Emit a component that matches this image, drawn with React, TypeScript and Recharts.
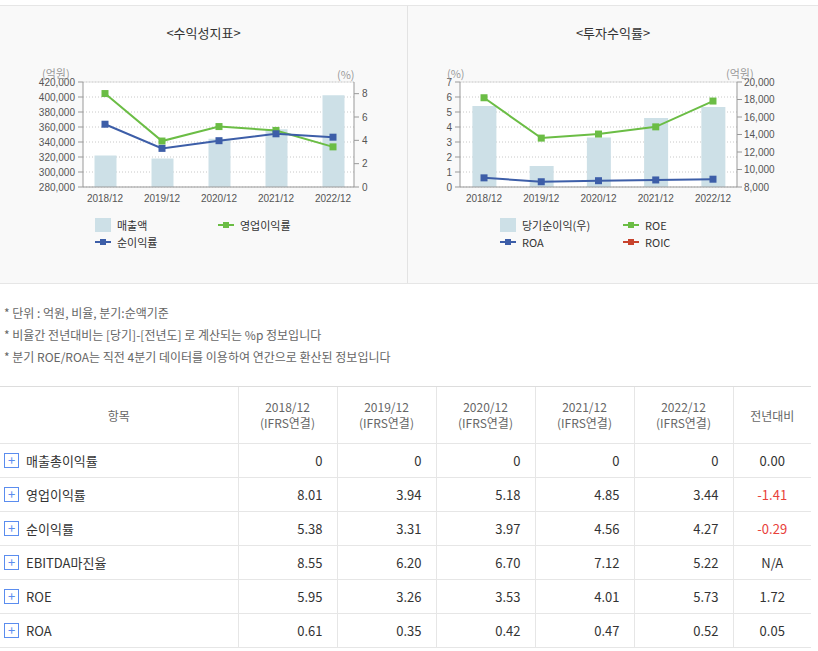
import { ComposedChart, Bar, Line, XAxis, YAxis, CartesianGrid, ReferenceLine } from "recharts"

// 공통
const years = ["2018/12", "2019/12", "2020/12", "2021/12", "2022/12"]

// 수익성지표
const sales = [322000, 318000, 344500, 357000, 402500]
const opMargin = [8.01, 3.94, 5.18, 4.85, 3.44]
const netMargin = [5.38, 3.31, 3.97, 4.56, 4.27]
const salesTicks = [280000, 300000, 320000, 340000, 360000, 380000, 400000, 420000]
const marginTicks = [0, 2, 4, 6, 8]

// 투자수익률
const netIncome = [17250, 10400, 13650, 15900, 17150]
const roe = [5.95, 3.26, 3.53, 4.01, 5.73]
const roa = [0.61, 0.35, 0.42, 0.47, 0.52]
const rateTicks = [0, 1, 2, 3, 4, 5, 6, 7]
const incomeTicks = [8000, 10000, 12000, 14000, 16000, 18000, 20000]

// 표
const tableItems = ["매출총이익률", "영업이익률", "순이익률", "EBITDA마진율", "ROE", "ROA"]
const tableValues = [
    ["0", "0", "0", "0", "0"],
    ["8.01", "3.94", "5.18", "4.85", "3.44"],
    ["5.38", "3.31", "3.97", "4.56", "4.27"],
    ["8.55", "6.20", "6.70", "7.12", "5.22"],
    ["5.95", "3.26", "3.53", "4.01", "5.73"],
    ["0.61", "0.35", "0.42", "0.47", "0.52"],
]
const yoy = ["0.00", "-1.41", "-0.29", "N/A", "1.72", "0.05"]

const notes = [
    "* 단위 : 억원, 비율, 분기:순액기준",
    "* 비율간 전년대비는 [당기]-[전년도] 로 계산되는 %p 정보입니다",
    "* 분기 ROE/ROA는 직전 4분기 데이터를 이용하여 연간으로 환산된 정보입니다",
]

const BAR = "#cde0e7"
const GREEN = "#6bbd45"
const BLUE = "#3d5ea8"
const RED = "#c8432d"
const KR = "'Noto Sans CJK KR', 'Noto Sans', sans-serif"

const profitData = years.map((y, i) => ({ year: y, sales: sales[i], op: opMargin[i], net: netMargin[i] }))
const returnData = years.map((y, i) => ({ year: y, income: netIncome[i], roe: roe[i], roa: roa[i] }))

const fmt = (v: number) => v.toLocaleString("en-US")
const tickStyle = { fill: "#555", fontSize: 10, fontFamily: "'Liberation Sans', Arial, sans-serif" }

const squareDot = (color: string) => (props: any) => {
    const { cx, cy, index } = props
    if (cx == null || cy == null) return <g key={index} />
    return <rect key={index} x={cx - 3.5} y={cy - 3.5} width={7} height={7} fill={color} />
}

function LegendItem({ kind, color, label, x, y }: { kind: "bar" | "line"; color: string; label: string; x: number; y: number }) {
    return (
        <div style={{ position: "absolute", left: x, top: y - 8, height: 16, display: "flex", alignItems: "center", whiteSpace: "nowrap", fontSize: 11, color: "#333", fontFamily: KR }}>
            {kind === "bar" ? (
                <div style={{ width: 16, height: 14, background: color, flex: "none" }} />
            ) : (
                <svg width={16} height={8} style={{ flex: "none" }}>
                    <line x1={0} y1={4} x2={16} y2={4} stroke={color} strokeWidth={2} />
                    <rect x={5} y={1} width={6} height={6} fill={color} />
                </svg>
            )}
            <span style={{ marginLeft: 6 }}>{label}</span>
        </div>
    )
}

function Panel({ left, width, title, children }: { left: number; width: number; title: string; children: any }) {
    return (
        <div style={{ position: "absolute", left, top: 5, width, height: 277, background: "#f9f9f9", borderTop: "1px solid #e6e6e6", borderBottom: "1px solid #e6e6e6", borderRight: left === 0 ? "1px solid #e3e3e3" : "none" }}>
            <div style={{ position: "absolute", top: 17, left: 0, width: "100%", textAlign: "center", fontSize: 13, color: "#333", fontFamily: KR }}>
                {title}
            </div>
            <div style={{ position: "absolute", left: 0, top: -5, width, height: 280 }}>{children}</div>
        </div>
    )
}

function ProfitChart() {
    return (
        <div style={{ position: "absolute", left: 0, top: 0 }}>
            <ComposedChart width={407} height={230} data={profitData} margin={{ top: 81, right: 3, bottom: 14, left: 23 }}>
                <CartesianGrid yAxisId="amt" vertical={false} stroke="#c8c8c8" strokeDasharray="1 2" fill="#fff" />
                <XAxis dataKey="year" padding={{ left: -6.5, right: -7.5 }} tick={tickStyle} tickLine={false} axisLine={{ stroke: "#999" }} />
                <YAxis yAxisId="amt" width={60} domain={[280000, 420000]} ticks={salesTicks} tickFormatter={fmt} tick={tickStyle} tickSize={5} tickMargin={3} axisLine={{ stroke: "#999" }} tickLine={{ stroke: "#999" }} interval={0} />
                <YAxis yAxisId="pct" orientation="right" width={50} domain={[0, 9]} ticks={marginTicks} tick={tickStyle} tickSize={5} tickMargin={3} axisLine={{ stroke: "#999" }} tickLine={{ stroke: "#999" }} interval={0} />
                <ReferenceLine yAxisId="amt" y={420000} stroke="#ddd" />
                <Bar yAxisId="amt" dataKey="sales" fill={BAR} barSize={22} isAnimationActive={false} />
                <Line yAxisId="pct" dataKey="op" stroke={GREEN} strokeWidth={2} dot={squareDot(GREEN)} activeDot={false} isAnimationActive={false} />
                <Line yAxisId="pct" dataKey="net" stroke={BLUE} strokeWidth={2} dot={squareDot(BLUE)} activeDot={false} isAnimationActive={false} />
            </ComposedChart>
        </div>
    )
}

function ReturnChart() {
    return (
        <div style={{ position: "absolute", left: 0, top: 0 }}>
            <ComposedChart width={410} height={230} data={returnData} margin={{ top: 81, right: 21, bottom: 14, left: 12 }}>
                <CartesianGrid yAxisId="pct" vertical={false} stroke="#c8c8c8" strokeDasharray="1 2" fill="#fff" />
                <XAxis dataKey="year" padding={{ left: -4.6, right: -4.6 }} tick={tickStyle} tickLine={false} axisLine={{ stroke: "#999" }} />
                <YAxis yAxisId="pct" width={40} domain={[0, 7]} ticks={rateTicks} tick={tickStyle} tickSize={5} tickMargin={3} axisLine={{ stroke: "#999" }} tickLine={{ stroke: "#999" }} interval={0} />
                <YAxis yAxisId="amt" orientation="right" width={60} domain={[8000, 20000]} ticks={incomeTicks} tickFormatter={fmt} tick={tickStyle} tickSize={5} tickMargin={2} axisLine={{ stroke: "#999" }} tickLine={{ stroke: "#999" }} interval={0} />
                <ReferenceLine yAxisId="pct" y={7} stroke="#ddd" />
                <Bar yAxisId="amt" dataKey="income" fill={BAR} barSize={24} isAnimationActive={false} />
                <Line yAxisId="pct" dataKey="roe" stroke={GREEN} strokeWidth={2} dot={squareDot(GREEN)} activeDot={false} isAnimationActive={false} />
                <Line yAxisId="pct" dataKey="roa" stroke={BLUE} strokeWidth={2} dot={squareDot(BLUE)} activeDot={false} isAnimationActive={false} />
            </ComposedChart>
        </div>
    )
}

const unitStyle = { position: "absolute" as const, fontSize: 11, color: "#999", fontFamily: KR, lineHeight: "14px", whiteSpace: "nowrap" as const }

export default function App() {
    const colW = [238, 99, 99, 99, 99, 99, 78]
    const cellBorder = "1px solid #e6e6e6"
    return (
        <div style={{ position: "relative", width: 818, height: 651, background: "#fff", overflow: "hidden", fontFamily: KR }}>
            <style>{`body{margin:0}`}</style>

            <Panel left={0} width={407} title="<수익성지표>">
                <ProfitChart />
                <div style={{ ...unitStyle, left: 42, top: 65 }}>(억원)</div>
                <div style={{ ...unitStyle, left: 337, top: 66 }}>(%)</div>
                <LegendItem kind="bar" color={BAR} label="매출액" x={95} y={224} />
                <LegendItem kind="line" color={GREEN} label="영업이익률" x={218} y={224} />
                <LegendItem kind="line" color={BLUE} label="순이익률" x={95} y={241} />
            </Panel>

            <Panel left={408} width={410} title="<투자수익률>">
                <ReturnChart />
                <div style={{ ...unitStyle, left: 39, top: 65 }}>(%)</div>
                <div style={{ ...unitStyle, left: 318, top: 65 }}>(억원)</div>
                <LegendItem kind="bar" color={BAR} label="당기순이익(우)" x={92} y={224} />
                <LegendItem kind="line" color={GREEN} label="ROE" x={215} y={224} />
                <LegendItem kind="line" color={BLUE} label="ROA" x={92} y={241} />
                <LegendItem kind="line" color={RED} label="ROIC" x={215} y={241} />
            </Panel>

            <div style={{ position: "absolute", left: 4, top: 302, fontSize: 12, color: "#666", lineHeight: "22px", whiteSpace: "nowrap" }}>
                {notes.map((n) => (
                    <div key={n}>{n}</div>
                ))}
            </div>

            <table style={{ position: "absolute", left: 0, top: 386, width: 811, borderCollapse: "collapse", tableLayout: "fixed", fontSize: 13, color: "#333" }}>
                <colgroup>
                    {colW.map((w, i) => (
                        <col key={i} style={{ width: w }} />
                    ))}
                </colgroup>
                <thead>
                    <tr style={{ height: 57 }}>
                        <th style={{ fontWeight: 400, fontSize: 12, color: "#666", borderTop: "1px solid #ddd", borderBottom: cellBorder }}>항목</th>
                        {years.map((y) => (
                            <th key={y} style={{ fontWeight: 400, fontSize: 12, color: "#666", lineHeight: "16px", borderTop: "1px solid #ddd", borderBottom: cellBorder, borderLeft: cellBorder }}>
                                {y}
                                <br />
                                (IFRS연결)
                            </th>
                        ))}
                        <th style={{ fontWeight: 400, fontSize: 12, color: "#666", borderTop: "1px solid #ddd", borderBottom: cellBorder, borderLeft: cellBorder }}>전년대비</th>
                    </tr>
                </thead>
                <tbody>
                    {tableItems.map((item, r) => (
                        <tr key={item} style={{ height: 34 }}>
                            <td style={{ borderBottom: cellBorder, padding: 0 }}>
                                <div style={{ display: "flex", alignItems: "center" }}>
                                    <div style={{ width: 13, height: 13, marginLeft: 4, border: "1px solid #5b8def", color: "#5b8def", fontSize: 13, lineHeight: "12px", textAlign: "center", boxSizing: "content-box" }}>+</div>
                                    <span style={{ marginLeft: 7 }}>{item}</span>
                                </div>
                            </td>
                            {tableValues[r].map((v, c) => (
                                <td key={c} style={{ textAlign: "right", paddingRight: 14, borderBottom: cellBorder, borderLeft: cellBorder, color: "#333" }}>
                                    {v}
                                </td>
                            ))}
                            <td style={{ textAlign: "center", borderBottom: cellBorder, borderLeft: cellBorder, color: yoy[r].startsWith("-") ? "#e8413a" : "#333" }}>{yoy[r]}</td>
                        </tr>
                    ))}
                </tbody>
            </table>
        </div>
    )
}
